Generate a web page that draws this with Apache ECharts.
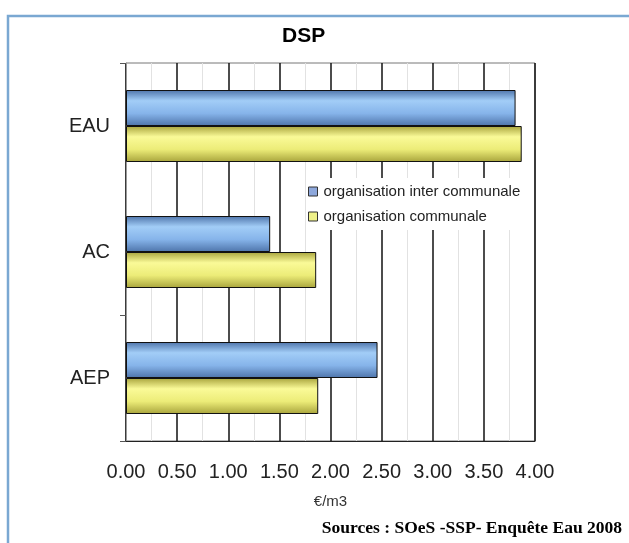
<!DOCTYPE html>
<html>
<head>
<meta charset="utf-8">
<script src="https://cdn.jsdelivr.net/npm/echarts@6/dist/echarts.min.js"></script>
<style>
  html, body { margin: 0; padding: 0; background: #fff; }
  #chart { width: 629px; height: 543px; }
</style>
</head>
<body>
<div id="chart"></div>
<script>
// Prix moyen de l'eau en délégation de service public (€/m3)
const categories = ['EAU', 'AC', 'AEP'];
const interCommunale = [3.81, 1.41, 2.46];
const communale = [3.87, 1.86, 1.88];
const seriesNames = ['organisation inter communale', 'organisation communale'];

const FONT = '"Liberation Sans", Arial, sans-serif';

function barGradient(edge, mid, light) {
  return new echarts.graphic.LinearGradient(0, 0, 0, 1, [
    { offset: 0, color: edge },
    { offset: 0.3, color: light },
    { offset: 0.65, color: mid },
    { offset: 1, color: edge }
  ]);
}

const chart = echarts.init(document.getElementById('chart'), null, { renderer: 'canvas' });

chart.setOption({
  backgroundColor: '#fff',
  animation: false,
  legend: {
    orient: 'vertical',
    left: 306,
    top: 178,
    itemWidth: 9,
    itemHeight: 9,
    itemGap: 10,
    padding: [6, 10, 6, 2],
    backgroundColor: '#fff',
    icon: 'rect',
    textStyle: { fontFamily: FONT, fontSize: 15, color: '#222', padding: [0, 0, 0, 1] },
    data: [
      { name: seriesNames[0], itemStyle: { color: '#8ea8dc', borderColor: '#333', borderWidth: 1 } },
      { name: seriesNames[1], itemStyle: { color: '#eef088', borderColor: '#333', borderWidth: 1 } }
    ]
  },
  grid: {
    left: 126,
    right: 94,
    top: 63,
    bottom: 102,
    show: true,
    borderColor: '#777',
    borderWidth: 1
  },
  xAxis: {
    type: 'value',
    min: 0,
    max: 4,
    interval: 0.5,
    name: '€/m3',
    nameLocation: 'middle',
    nameGap: 53,
    nameTextStyle: { fontFamily: FONT, fontSize: 15, color: '#333' },
    axisLine: { show: true, lineStyle: { color: '#222', width: 1 } },
    axisTick: { show: false },
    axisLabel: {
      margin: 21,
      fontFamily: FONT,
      fontSize: 20,
      color: '#222',
      formatter: v => v.toFixed(2)
    },
    splitLine: { show: true, lineStyle: { color: '#111', width: 1.5 } },
    minorTick: { show: false, splitNumber: 2 },
    minorSplitLine: { show: true, lineStyle: { color: '#e2e2e2', width: 1 } }
  },
  yAxis: {
    type: 'category',
    data: categories,
    inverse: true,
    axisLine: { show: true, lineStyle: { color: '#999' } },
    axisTick: {
      show: true,
      length: 6,
      interval: 1,
      lineStyle: { color: '#555' }
    },
    axisLabel: { margin: 16, fontFamily: FONT, fontSize: 20, color: '#222' }
  },
  series: [
    {
      name: seriesNames[0],
      type: 'bar',
      data: interCommunale,
      barWidth: 36,
      barGap: '0%',
      itemStyle: {
        color: barGradient('#4e74aa', '#86b4ea', '#a2cdf7'),
        borderColor: '#111',
        borderWidth: 1
      },
      z: 3
    },
    {
      name: seriesNames[1],
      type: 'bar',
      data: communale,
      barWidth: 36,
      barGap: '0%',
      itemStyle: {
        color: barGradient('#a8a43c', '#ecec78', '#fafa98'),
        borderColor: '#111',
        borderWidth: 1
      },
      z: 3
    }
  ],
  graphic: [
    {
      type: 'polyline',
      shape: { points: [[8, 543], [8, 16], [629, 16]] },
      style: { stroke: '#7aa8d2', lineWidth: 2.5, fill: null },
      silent: true
    },
    {
      type: 'text',
      x: 282,
      y: 36,
      style: {
        text: 'DSP',
        font: 'bold 21px "Liberation Sans", Arial, sans-serif',
        fill: '#000',
        verticalAlign: 'middle'
      },
      silent: true
    },
    {
      type: 'text',
      x: 622,
      y: 528,
      style: {
        text: 'Sources : SOeS -SSP- Enquête Eau 2008',
        font: 'bold 17.5px "Liberation Serif", "Times New Roman", serif',
        fill: '#000',
        align: 'right',
        verticalAlign: 'middle'
      },
      silent: true
    }
  ]
});
</script>
</body>
</html>
